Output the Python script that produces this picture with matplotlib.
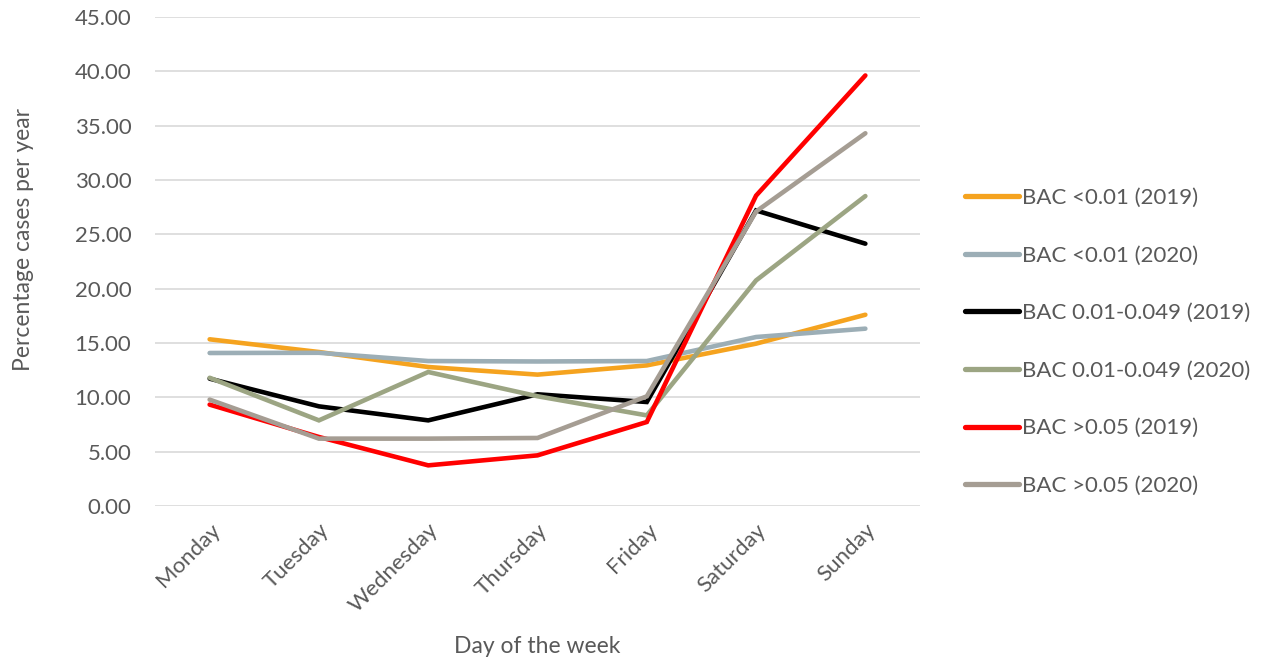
import matplotlib
matplotlib.use("Agg")
import matplotlib.pyplot as plt

days = ["Monday", "Tuesday", "Wednesday", "Thursday", "Friday", "Saturday", "Sunday"]

bac_low_2019 = [15.34, 14.17, 12.79, 12.09, 12.94, 14.94, 17.60]
bac_low_2020 = [14.08, 14.10, 13.34, 13.30, 13.34, 15.55, 16.32]
bac_mid_2019 = [11.72, 9.17, 7.88, 10.28, 9.57, 27.20, 24.14]
bac_mid_2020 = [11.80, 7.88, 12.33, 10.10, 8.34, 20.76, 28.52]
bac_high_2019 = [9.33, 6.35, 3.74, 4.66, 7.73, 28.56, 39.62]
bac_high_2020 = [9.79, 6.20, 6.20, 6.26, 10.09, 27.10, 34.30]

labels = ["BAC <0.01 (2019)", "BAC <0.01 (2020)", "BAC 0.01-0.049 (2019)",
          "BAC 0.01-0.049 (2020)", "BAC >0.05 (2019)", "BAC >0.05 (2020)"]
colors = ["#F5A31F", "#9CAEB6", "#000000", "#9CA583", "#FF0000", "#A59D93"]
series = [bac_low_2019, bac_low_2020, bac_mid_2019, bac_mid_2020, bac_high_2019, bac_high_2020]

text_color = "#595959"
plt.rcParams["font.family"] = ["Lato", "DejaVu Sans"]
plt.rcParams["font.size"] = 16

fig = plt.figure(figsize=(12.63, 6.62), dpi=100)
ax = fig.add_axes([155 / 1263, 1 - 506 / 662, (920 - 155) / 1263, (506 - 17) / 662])

x = list(range(len(days)))
for vals, lab, col in zip(series, labels, colors):
    ax.plot(x, vals, color=col, lw=3.3, label=lab, solid_capstyle="round", solid_joinstyle="miter")

ax.set_xlim(-0.5, len(days) - 0.5)
ax.set_ylim(0, 45)
ax.set_yticks([i * 5 for i in range(10)])
ax.set_yticklabels([f"{i * 5:.2f}" for i in range(10)])
ax.set_xticks(x)
ax.set_xticklabels(days, rotation=45, ha="right", rotation_mode="anchor")

ax.grid(axis="y", color="#D9D9D9", lw=1.2)
ax.set_axisbelow(True)
for s in ax.spines.values():
    s.set_visible(False)
ax.tick_params(axis="y", length=0, pad=17, colors=text_color)
ax.tick_params(axis="x", length=0, pad=10, colors=text_color)

ax.set_xlabel("Day of the week", color=text_color, fontsize=16.5)
ax.xaxis.set_label_coords(0.5, -0.265)
ax.set_ylabel("Percentage cases per year", color=text_color, fontsize=16.5)
ax.yaxis.set_label_coords(-0.158, 0.545)

leg = ax.legend(loc="center left", bbox_to_anchor=(965 / 1263, 1 - 342 / 662),
                bbox_transform=fig.transFigure, frameon=False, handlelength=2.45,
                handletextpad=0.12, labelspacing=1.69, borderpad=0, borderaxespad=0)
for t in leg.get_texts():
    t.set_color(text_color)
for h in leg.get_lines():
    h.set_linewidth(3.8)

fig.savefig("out.png", dpi=100)
